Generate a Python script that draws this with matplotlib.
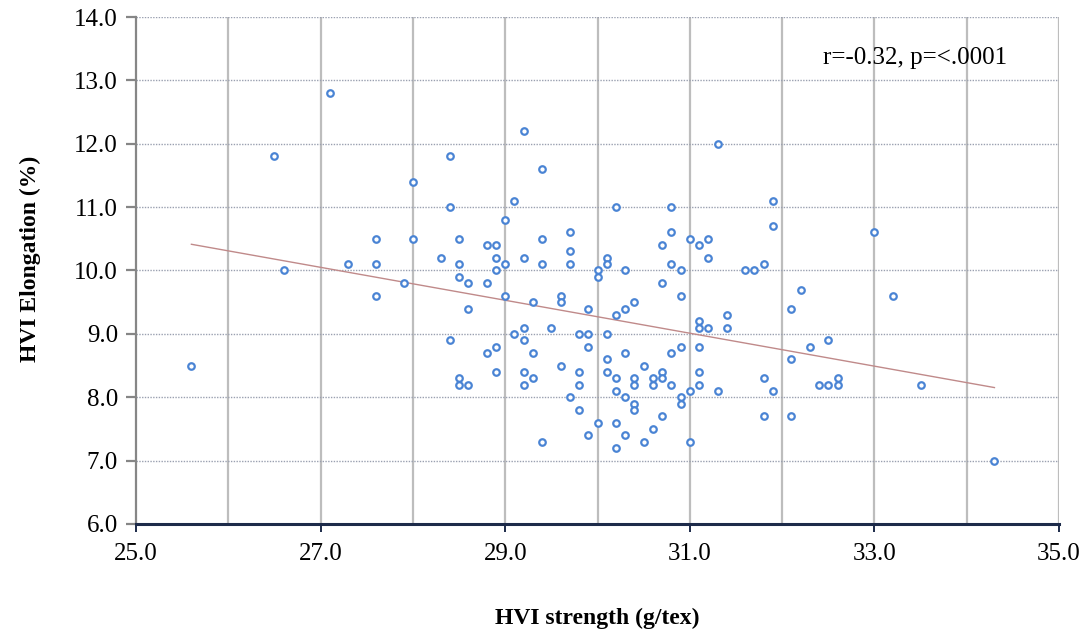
import numpy as np
import matplotlib
matplotlib.use("Agg")
import matplotlib.pyplot as plt
from matplotlib.ticker import MultipleLocator, FormatStrFormatter

# HVI strength (g/tex)
strength = [25.6, 26.5, 26.6, 27.1, 27.3, 27.6, 27.6, 27.6, 27.9, 28.0,
            28.0, 28.3, 28.4, 28.4, 28.4, 28.5, 28.5, 28.5, 28.5, 28.5,
            28.6, 28.6, 28.6, 28.8, 28.8, 28.8, 28.9, 28.9, 28.9, 28.9,
            28.9, 29.0, 29.0, 29.0, 29.1, 29.1, 29.2, 29.2, 29.2, 29.2,
            29.2, 29.2, 29.3, 29.3, 29.3, 29.4, 29.4, 29.4, 29.4, 29.5,
            29.6, 29.6, 29.6, 29.7, 29.7, 29.7, 29.7, 29.8, 29.8, 29.8,
            29.8, 29.9, 29.9, 29.9, 29.9, 30.0, 30.0, 30.0, 30.1, 30.1,
            30.1, 30.1, 30.1, 30.2, 30.2, 30.2, 30.2, 30.2, 30.2, 30.3,
            30.3, 30.3, 30.3, 30.3, 30.4, 30.4, 30.4, 30.4, 30.4, 30.5,
            30.5, 30.6, 30.6, 30.6, 30.7, 30.7, 30.7, 30.7, 30.7, 30.8,
            30.8, 30.8, 30.8, 30.8, 30.9, 30.9, 30.9, 30.9, 30.9, 31.0,
            31.0, 31.0, 31.1, 31.1, 31.1, 31.1, 31.1, 31.1, 31.2, 31.2,
            31.2, 31.3, 31.3, 31.4, 31.4, 31.6, 31.7, 31.8, 31.8, 31.8,
            31.9, 31.9, 31.9, 32.1, 32.1, 32.1, 32.2, 32.3, 32.4, 32.5,
            32.5, 32.6, 32.6, 33.0, 33.2, 33.5, 34.3]

# HVI elongation (%)
elongation = [8.5, 11.8, 10.0, 12.8, 10.1, 10.5, 10.1, 9.6, 9.8, 11.4,
              10.5, 10.2, 11.8, 11.0, 8.9, 10.5, 10.1, 9.9, 8.3, 8.2,
              9.8, 9.4, 8.2, 10.4, 9.8, 8.7, 10.4, 10.2, 10.0, 8.8,
              8.4, 10.8, 10.1, 9.6, 11.1, 9.0, 12.2, 10.2, 9.1, 8.9,
              8.4, 8.2, 9.5, 8.7, 8.3, 11.6, 10.5, 10.1, 7.3, 9.1,
              9.6, 9.5, 8.5, 10.6, 10.3, 10.1, 8.0, 9.0, 8.4, 8.2,
              7.8, 9.0, 8.8, 9.4, 7.4, 10.0, 9.9, 7.6, 10.2, 10.1,
              9.0, 8.6, 8.4, 11.0, 9.3, 8.3, 8.1, 7.6, 7.2, 10.0,
              9.4, 8.7, 8.0, 7.4, 9.5, 8.3, 8.2, 7.9, 7.8, 8.5,
              7.3, 8.3, 8.2, 7.5, 10.4, 9.8, 8.4, 8.3, 7.7, 11.0,
              10.6, 10.1, 8.7, 8.2, 10.0, 9.6, 8.8, 8.0, 7.9, 10.5,
              8.1, 7.3, 10.4, 9.2, 9.1, 8.8, 8.4, 8.2, 10.5, 10.2,
              9.1, 12.0, 8.1, 9.3, 9.1, 10.0, 10.0, 10.1, 8.3, 7.7,
              11.1, 10.7, 8.1, 9.4, 8.6, 7.7, 9.7, 8.8, 8.2, 8.9,
              8.2, 8.3, 8.2, 10.6, 9.6, 8.2, 7.0]

x_ticks = [25.0, 27.0, 29.0, 31.0, 33.0, 35.0]
stat_text = "r=-0.32, p=<.0001"

x = np.array(strength)
y = np.array(elongation)

plt.rcParams['font.family'] = ['Liberation Serif', 'DejaVu Serif']

fig = plt.figure(figsize=(10.9, 6.32), dpi=100)
ax = fig.add_axes([0.1248, 0.1709, 0.9716 - 0.1248, 0.9731 - 0.1709])

# vertical grid every 1.0 (solid grey), horizontal dotted
for gx in range(26, 36):
    ax.axvline(gx, color='#bdbdbd', lw=1.6, zorder=0)
for gy in range(7, 15):
    ax.axhline(gy, color='#9aa0b0', lw=1.0, ls=(0, (1, 1)), zorder=0)

ax.scatter(x, y, s=22, facecolors='white', edgecolors='#4a84d4',
           linewidths=1.6, zorder=3)

# linear trend over the range of the data
k, b = np.polyfit(x, y, 1)
xt = np.array([x.min(), x.max()])
ax.plot(xt, k * xt + b, color='#c08a8a', lw=1.0, zorder=2)

ax.set_xlim(25, 35)
ax.set_ylim(6, 14)
ax.set_xticks(x_ticks)
ax.yaxis.set_major_locator(MultipleLocator(1))
ax.xaxis.set_major_formatter(FormatStrFormatter('%.1f'))
ax.yaxis.set_major_formatter(FormatStrFormatter('%.1f'))

for s in ['top', 'right']:
    ax.spines[s].set_visible(False)
ax.spines['left'].set_color('#868686')
ax.spines['left'].set_linewidth(1.6)
ax.spines['bottom'].set_color('#1d2b4a')
ax.spines['bottom'].set_linewidth(2.2)

ax.tick_params(axis='x', direction='out', length=6, width=1.4, color='#1d2b4a',
               labelsize=18, pad=8)
ax.tick_params(axis='y', direction='out', length=7, width=1.6, color='#868686',
               labelsize=18, pad=6)

ax.text(32.44, 13.35, stat_text, fontsize=18, ha='left', va='center')

fig.text(0.028, 0.59, "HVI Elongation (%)", rotation=90, fontsize=17,
         fontweight='bold', ha='center', va='center')
fig.text(0.548, 0.022, "HVI strength (g/tex)", fontsize=17,
         fontweight='bold', ha='center', va='center')

fig.savefig("out.png", dpi=100)
